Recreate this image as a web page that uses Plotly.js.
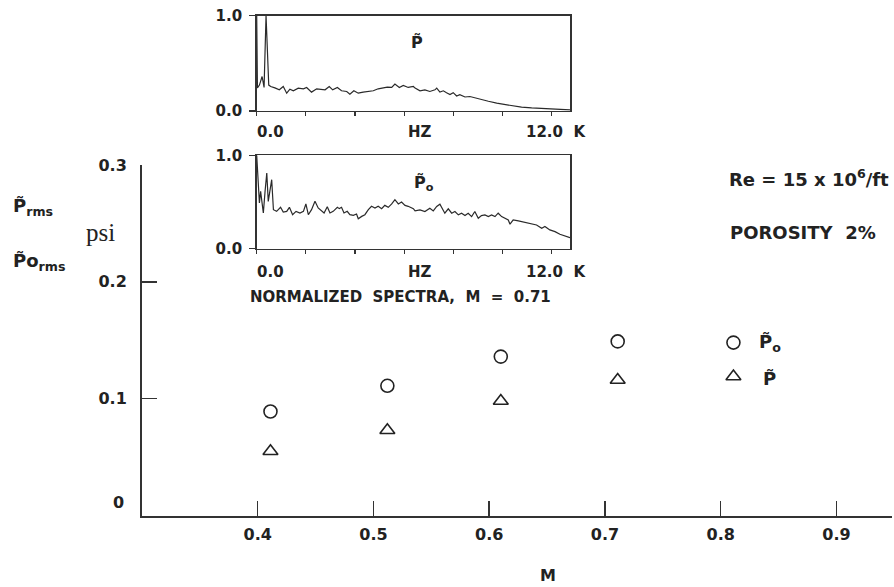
<!DOCTYPE html>
<html>
<head>
<meta charset="utf-8">
<script src="https://cdn.plot.ly/plotly-3.0.1.min.js"></script>
<style>
  html, body { margin: 0; padding: 0; background: #fff; }
  #chart { width: 894px; height: 587px; }
</style>
</head>
<body>
<div id="chart"></div>
<script>
// Fluctuating pressure versus Mach number, with normalized spectra at M = 0.71
const machNumbers = [0.411, 0.512, 0.610, 0.711, 0.811];
const poRms = [0.089, 0.111, 0.136, 0.149, 0.148];   // psi
const pRms  = [0.055, 0.073, 0.098, 0.116, 0.119];   // psi

const machTicks = [0.4, 0.5, 0.6, 0.7, 0.8, 0.9];
const machTickText = ['0.4', '0.5', '0.6', '0.7', '0.8', '0.9'];
const psiTicks = [0.1, 0.2, 0.3];
const psiTickText = ['0.1', '0.2', '0.3'];

// spectrum of P~ (frequency in kHz, normalized amplitude)
const specFreqP = [0, 0.03, 0.11, 0.22, 0.30, 0.38, 0.49, 0.57, 0.74, 0.92, 1.08, 1.22, 1.35, 1.49, 1.69,
  1.90, 2.03, 2.23, 2.44, 2.64, 2.78, 2.95, 3.09, 3.28, 3.45, 3.66, 3.79, 3.95, 4.13, 4.33, 4.54, 4.74,
  4.94, 5.15, 5.31, 5.49, 5.62, 5.80, 5.96, 6.16, 6.37, 6.44, 6.64, 6.84, 7.04, 7.25, 7.32, 7.45, 7.59,
  7.72, 7.86, 7.99, 8.13, 8.26, 8.47, 8.67, 8.87, 9.08, 9.42, 9.76, 10.09, 10.37, 10.77, 11.18, 11.72,
  12.26, 12.74];
const specAmpP = [1.0, 0.24, 0.27, 0.36, 0.245, 1.0, 0.27, 0.255, 0.24, 0.22, 0.255, 0.185, 0.227, 0.21, 0.238,
  0.231, 0.245, 0.196, 0.231, 0.227, 0.22, 0.255, 0.22, 0.245, 0.21, 0.203, 0.175, 0.21, 0.185, 0.196, 0.203, 0.21,
  0.231, 0.238, 0.248, 0.245, 0.28, 0.245, 0.266, 0.245, 0.255, 0.238, 0.21, 0.22, 0.203, 0.22, 0.238, 0.196, 0.21,
  0.19, 0.17, 0.19, 0.155, 0.17, 0.145, 0.15, 0.135, 0.12, 0.10, 0.08, 0.065, 0.05, 0.038, 0.03, 0.022,
  0.015, 0.01];

// spectrum of P~o
const specFreqPo = [0, 0.11, 0.16, 0.22, 0.27, 0.34, 0.41, 0.47, 0.54, 0.61, 0.68, 0.81, 0.97, 1.08, 1.22,
  1.33, 1.46, 1.60, 1.76, 1.90, 2.00, 2.10, 2.23, 2.37, 2.50, 2.64, 2.74, 2.87, 2.98, 3.11, 3.28, 3.36,
  3.45, 3.55, 3.68, 3.79, 3.93, 4.06, 4.13, 4.27, 4.40, 4.54, 4.67, 4.81, 4.94, 5.08, 5.21, 5.35, 5.49,
  5.62, 5.76, 5.89, 6.03, 6.16, 6.37, 6.44, 6.64, 6.84, 7.04, 7.18, 7.32, 7.45, 7.55, 7.65, 7.79, 7.93,
  8.06, 8.20, 8.33, 8.47, 8.60, 8.74, 8.87, 9.01, 9.14, 9.28, 9.42, 9.55, 9.69, 9.82, 9.96, 10.09, 10.23,
  10.30, 10.43, 10.64, 10.91, 11.18, 11.38, 11.59, 11.72, 11.92, 12.13, 12.33, 12.53, 12.74];
const specAmpPo = [1.0, 0.489, 0.614, 0.489, 0.382, 0.614, 0.811, 0.507, 0.65, 0.739, 0.418, 0.40, 0.443, 0.393, 0.40,
  0.443, 0.364, 0.40, 0.382, 0.40, 0.479, 0.364, 0.418, 0.507, 0.436, 0.40, 0.382, 0.45, 0.382, 0.40, 0.443, 0.429,
  0.443, 0.382, 0.40, 0.364, 0.357, 0.371, 0.321, 0.346, 0.364, 0.418, 0.454, 0.436, 0.454, 0.429, 0.464, 0.443, 0.479,
  0.525, 0.479, 0.50, 0.464, 0.454, 0.429, 0.405, 0.416, 0.398, 0.434, 0.405, 0.452, 0.477, 0.434, 0.38, 0.427, 0.38,
  0.398, 0.362, 0.38, 0.355, 0.38, 0.344, 0.398, 0.326, 0.355, 0.362, 0.344, 0.362, 0.344, 0.38, 0.344, 0.326, 0.308,
  0.262, 0.308, 0.297, 0.283, 0.272, 0.254, 0.219, 0.237, 0.201, 0.183, 0.154, 0.14, 0.118];

const specTicks = [0, 2, 4, 6, 8, 10, 12];

// page-pixel helpers for placing the free text
const W = 894, H = 587;
const px = v => v / W;
const py = v => 1 - v / H;

const ink = '#222';
const sans = 'DejaVu Sans';
const boldFont = (size) => ({ family: sans, size: size, color: ink, weight: 700 });

const traces = [
  {
    x: machNumbers, y: poRms, type: 'scatter', mode: 'markers', name: 'P~o',
    marker: { symbol: 'circle-open', size: 13, color: ink, line: { width: 1.6, color: ink } },
    xaxis: 'x', yaxis: 'y', hoverinfo: 'x+y'
  },
  {
    x: machNumbers, y: pRms, type: 'scatter', mode: 'markers', name: 'P~',
    marker: { symbol: 'triangle-up-open', size: 13, color: ink, line: { width: 1.6, color: ink } },
    xaxis: 'x', yaxis: 'y', hoverinfo: 'x+y'
  },
  {
    x: specFreqP, y: specAmpP, type: 'scatter', mode: 'lines',
    line: { color: '#2a2a2a', width: 1.2 }, xaxis: 'x2', yaxis: 'y2', hoverinfo: 'skip'
  },
  {
    x: specFreqPo, y: specAmpPo, type: 'scatter', mode: 'lines',
    line: { color: '#2a2a2a', width: 1.2 }, xaxis: 'x3', yaxis: 'y3', hoverinfo: 'skip'
  }
];

const mainAxisCommon = {
  showgrid: false, zeroline: false, showline: true, linewidth: 2, linecolor: '#333',
  ticks: 'inside', ticklen: 15, tickwidth: 1.5, tickcolor: '#333',
  tickfont: boldFont(16), fixedrange: true
};

const insetX = (anchor) => ({
  domain: [px(256.7), px(570)], range: [0, 12.74], anchor: anchor,
  showgrid: false, zeroline: false, showline: true, mirror: true, linewidth: 1.5, linecolor: '#333',
  tickmode: 'array', tickvals: specTicks, ticks: 'outside', ticklen: 4, tickwidth: 1.2, tickcolor: '#333',
  showticklabels: false, fixedrange: true
});
const insetY = (anchor, top, bottom) => ({
  domain: [py(bottom), py(top)], range: [0, 1], anchor: anchor,
  showgrid: false, zeroline: false, showline: true, mirror: true, linewidth: 1.5, linecolor: '#333',
  tickmode: 'array', tickvals: [0, 1], ticktext: ['0.0', '1.0'],
  ticks: 'outside', ticklen: 6, tickwidth: 1.5, tickcolor: '#333',
  tickfont: boldFont(15), ticklabelstandoff: 4, fixedrange: true
});

const ann = (text, x, y, size, opts) => Object.assign({
  text: text, xref: 'paper', yref: 'paper', x: px(x), y: py(y),
  xanchor: 'center', yanchor: 'middle', showarrow: false, font: boldFont(size)
}, opts || {});

const annotations = [
  // inset labels
  ann('P\u0303', 417, 43, 16),
  ann('P\u0303<sub>o</sub>', 424, 183, 16),
  ann('0.0', 270, 132, 15),
  ann('HZ', 420, 132, 15),
  ann('12.0&nbsp;&nbsp;K', 556, 132, 15),
  ann('0.0', 270, 272, 15),
  ann('HZ', 420, 272, 15),
  ann('12.0&nbsp;&nbsp;K', 556, 272, 15),
  ann('NORMALIZED&nbsp;&nbsp;SPECTRA,&nbsp;&nbsp;M&nbsp;&nbsp;=&nbsp;&nbsp;0.71', 400, 297, 15),
  // flow conditions
  ann('Re = 15 x 10<sup>6</sup>/ft', 727, 178, 18, { xanchor: 'left' }),
  ann('POROSITY&nbsp;&nbsp;2%', 728, 233, 18, { xanchor: 'left' }),
  // symbol key beside the M = 0.81 points
  ann('P\u0303<sub>o</sub>', 757, 343, 18, { xanchor: 'left' }),
  ann('P\u0303', 761, 379, 18, { xanchor: 'left' }),
  // y-axis title
  ann('P\u0303<sub>rms</sub>', 11, 207, 18, { xanchor: 'left' }),
  ann('P\u0303o<sub>rms</sub>', 11, 262, 18, { xanchor: 'left' }),
  ann('psi', 84, 233, 25, { xanchor: 'left', font: { family: 'Liberation Serif', size: 25, color: ink } }),
  // zero of the psi axis
  ann('0', 126, 502, 16, { xanchor: 'right' }),
  // x-axis title
  ann('M', 548, 575, 16)
];

const layout = {
  width: W, height: H,
  margin: { l: 0, r: 0, t: 0, b: 0 },
  paper_bgcolor: '#fff', plot_bgcolor: 'rgba(0,0,0,0)',
  showlegend: false,
  xaxis: Object.assign({}, mainAxisCommon, {
    domain: [px(142), px(892)], range: [0.30, 0.948], anchor: 'y',
    tickmode: 'array', tickvals: machTicks, ticktext: machTickText, ticklabelstandoff: 3
  }),
  yaxis: Object.assign({}, mainAxisCommon, {
    domain: [py(515.5), py(165)], range: [0, 0.3], anchor: 'x',
    tickmode: 'array', tickvals: psiTicks, ticktext: psiTickText, ticklabelstandoff: 10
  }),
  xaxis2: insetX('y2'),
  yaxis2: insetY('x2', 15.5, 110.8),
  xaxis3: insetX('y3'),
  yaxis3: insetY('x3', 155.3, 248.7),
  annotations: annotations
};

Plotly.newPlot('chart', traces, layout, { displayModeBar: false, staticPlot: true });
</script>
</body>
</html>
